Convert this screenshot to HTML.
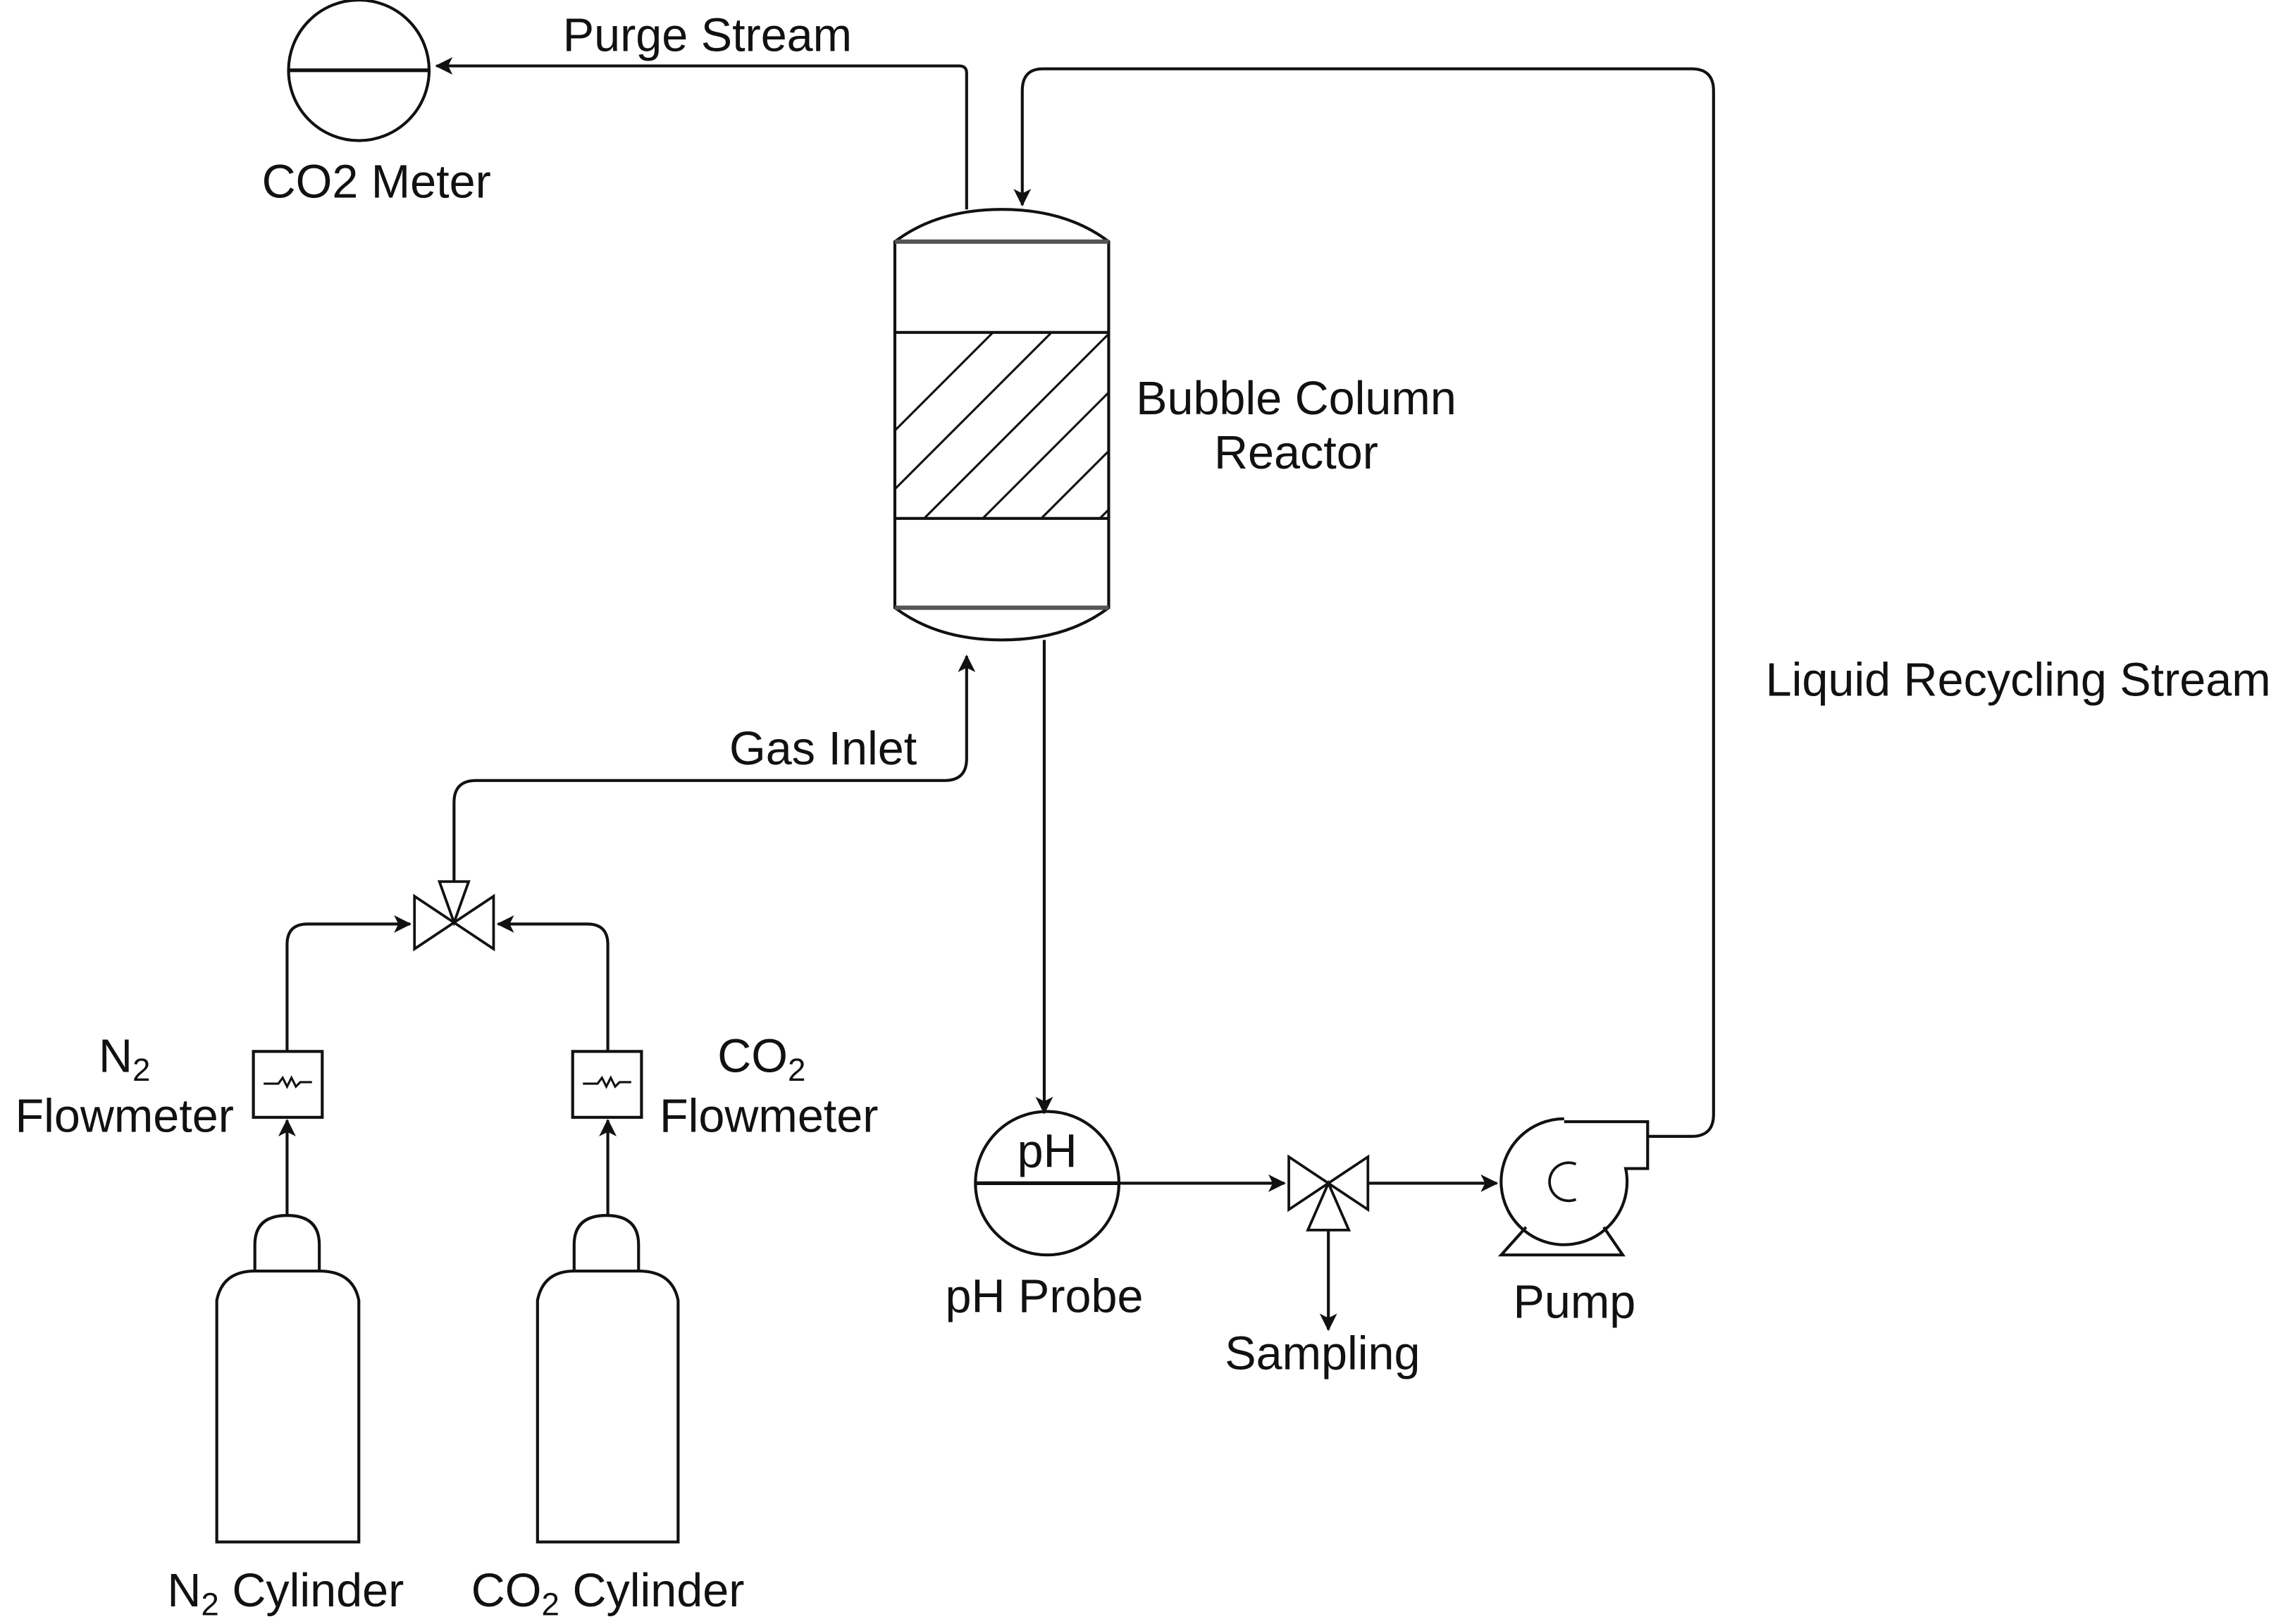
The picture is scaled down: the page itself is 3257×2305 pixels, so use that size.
<!DOCTYPE html>
<html><head><meta charset="utf-8"><style>
html,body{margin:0;padding:0;background:#fff}
svg{display:block}
text{font-family:"Liberation Sans",sans-serif;font-size:32px;fill:#111;text-anchor:middle}
</style></head><body>
<svg width="3257" height="2305" viewBox="0 0 1567 1109" xmlns="http://www.w3.org/2000/svg">
<defs>
<marker id="a" markerWidth="12" markerHeight="12" refX="11" refY="6" orient="auto" markerUnits="userSpaceOnUse" viewBox="0 0 12 12">
<path d="M0,0 L12,6 L0,12 L3,6 z" fill="#111"/></marker>
<clipPath id="hc"><rect x="611" y="227" width="146" height="127"/></clipPath>
</defs>
<g fill="none" stroke="#111" stroke-width="2">
<circle cx="245" cy="48" r="48"/>
<line x1="197" y1="48" x2="293" y2="48" stroke-width="2.5"/>
<path d="M660,143 V50 Q660,45 655,45 H298" marker-end="url(#a)"/>
<path d="M611,165 Q640,143 684,143 Q728,143 757,165 V415 Q728,437 684,437 Q640,437 611,415 Z"/>
<line x1="611" y1="165" x2="757" y2="165" stroke-width="3" stroke="#555"/>
<line x1="611" y1="415" x2="757" y2="415" stroke-width="3" stroke="#555"/>
<line x1="611" y1="227" x2="757" y2="227"/>
<line x1="611" y1="354" x2="757" y2="354"/>
<g clip-path="url(#hc)" stroke-width="1.5">
<line x1="551" y1="354" x2="678" y2="227"/><line x1="591" y1="354" x2="718" y2="227"/>
<line x1="631" y1="354" x2="758" y2="227"/><line x1="671" y1="354" x2="798" y2="227"/>
<line x1="711" y1="354" x2="838" y2="227"/><line x1="751" y1="354" x2="878" y2="227"/>
</g>
<path d="M1125,776 H1155 Q1170,776 1170,761 V62 Q1170,47 1155,47 H712 Q698,47 698,62 V140" marker-end="url(#a)"/>
<path d="M713,437 V760" marker-end="url(#a)"/>
<circle cx="715" cy="808" r="49"/>
<line x1="666" y1="808" x2="764" y2="808" stroke-width="2.5"/>
<path d="M764,808 H877" marker-end="url(#a)"/>
<path d="M880,790 L934,826 V790 L880,826 Z" stroke-width="1.8"/>
<path d="M907,808 L893,840 H921 Z" stroke-width="1.8"/>
<path d="M934,808 H1022" marker-end="url(#a)"/>
<path d="M907,840 V908" marker-end="url(#a)"/>
<!-- pump -->
<path d="M1068,764 A43,43 0 1 0 1110,798 H1125 V766 H1068"/>
<path d="M1042,838 L1025,857 H1108 L1095,838"/>
<path d="M1076,795 A13,13 0 1 0 1076,819" stroke-width="1.8"/>
<path d="M310,602 V548 Q310,533 325,533 H645 Q660,533 660,518 V448" marker-end="url(#a)"/>
<path d="M283,612 L337,648 V612 L283,648 Z" stroke-width="1.8"/>
<path d="M310,630 L300,602 H320 Z" stroke-width="1.8"/>
<path d="M196,718 V645 Q196,631 210,631 H280" marker-end="url(#a)"/>
<path d="M415,718 V645 Q415,631 401,631 H340" marker-end="url(#a)"/>
<rect x="173" y="718" width="47" height="45"/>
<rect x="391" y="718" width="47" height="45"/>
<path d="M180,740 H190 l3,-4 l3,6 l3,-6 l3,6 l3,-3 H213" stroke-width="1.5"/>
<path d="M398,740 H408 l3,-4 l3,6 l3,-6 l3,6 l3,-3 H431" stroke-width="1.5"/>
<path d="M196,830 V765" marker-end="url(#a)"/>
<path d="M415,830 V765" marker-end="url(#a)"/>
<path d="M174,868 V850 Q174,830 196,830 Q218,830 218,850 V868"/>
<path d="M148,1053 V888 Q152,868 174,868 H218 Q241,868 245,888 V1053 Z"/>
<path d="M392,868 V850 Q392,830 414,830 Q436,830 436,850 V868"/>
<path d="M367,1053 V888 Q371,868 392,868 H436 Q459,868 463,888 V1053 Z"/>
</g>
<text x="257" y="135">CO2 Meter</text>
<text x="483" y="35">Purge Stream</text>
<text x="885" y="283">Bubble Column</text>
<text x="885" y="320">Reactor</text>
<text x="1378" y="475">Liquid Recycling Stream</text>
<text x="562" y="522">Gas Inlet</text>
<text x="715" y="797" font-size="26">pH</text>
<text x="713" y="896">pH Probe</text>
<text x="903" y="935">Sampling</text>
<text x="1075" y="900">Pump</text>
<text x="85" y="732">N<tspan font-size="22" dy="6">2</tspan></text>
<text x="85" y="773">Flowmeter</text>
<text x="520" y="732">CO<tspan font-size="22" dy="6">2</tspan></text>
<text x="525" y="773">Flowmeter</text>
<text x="195" y="1097">N<tspan font-size="22" dy="6">2</tspan><tspan dy="-6"> Cylinder</tspan></text>
<text x="415" y="1097">CO<tspan font-size="22" dy="6">2</tspan><tspan dy="-6"> Cylinder</tspan></text>
</svg>
</body></html>
